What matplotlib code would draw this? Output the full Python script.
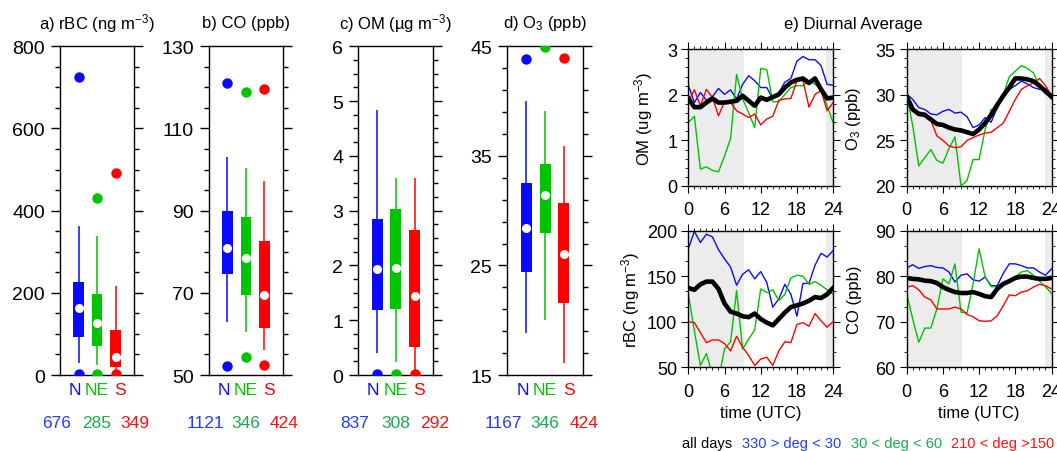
import matplotlib.pyplot as plt
from matplotlib.ticker import MultipleLocator, AutoMinorLocator
import numpy as np

plt.rcParams['font.family'] = ['Liberation Sans', 'DejaVu Sans']
plt.rcParams['mathtext.fontset'] = 'custom'
plt.rcParams['mathtext.rm'] = 'Liberation Sans'
plt.rcParams['mathtext.it'] = 'Liberation Sans:italic'
plt.rcParams['axes.linewidth'] = 1.0

sectors = ['N', 'NE', 'S']
sector_colors = ['#0a0aff', '#00c400', '#ff0000']
count_colors = ['#1f3dff', '#1aaa4f', '#ff1010']

# box stats per sector: low outlier, whisker low, q1, median, q3, whisker high, high outlier
rbc_stats = [(3, 29, 92, 162, 227, 363, 725),
             (2, 24, 71, 127, 197, 339, 432),
             (2, 5, 20, 45, 110, 217, 492)]
co_stats = [(52.1, 63.0, 74.6, 80.8, 90.0, 103.1, 121.0),
            (54.5, 60.5, 69.5, 78.6, 88.4, 100.5, 119.0),
            (52.5, 56.2, 61.4, 69.5, 82.5, 97.3, 119.6)]
om_stats = [(0.02, 0.41, 1.19, 1.94, 2.84, 4.83, None),
            (0.02, 0.23, 1.21, 1.96, 3.03, 3.59, None),
            (0.02, 0.02, 0.52, 1.45, 2.64, 3.59, None)]
o3_stats = [(None, 18.8, 24.4, 28.4, 32.5, 40.0, 43.8),
            (None, 20.0, 28.0, 31.4, 34.3, 39.1, 44.9),
            (None, 16.1, 21.6, 26.0, 30.7, 35.9, 43.9)]

rbc_counts = [676, 285, 349]
co_counts = [1121, 346, 424]
om_counts = [837, 308, 292]
o3_counts = [1167, 346, 424]

# diurnal cycle, hourly 0..24 UTC
hours = np.arange(25)

om_all = [1.92, 1.73, 1.73, 1.83, 1.92, 1.83, 1.83, 1.85, 1.87, 1.98, 1.87, 1.76, 1.94,
          1.89, 1.95, 2.01, 2.16, 2.27, 2.33, 2.36, 2.26, 2.36, 2.12, 1.92, 1.94]
om_n = [2.21, 1.83, 2.05, 1.88, 1.96, 2.14, 2.01, 2.11, 1.91, 2.23, 2.42, 2.31, 2.16,
        2.16, 1.92, 2.05, 2.28, 2.36, 2.74, 2.84, 2.77, 2.77, 2.64, 2.23, 2.21]
om_ne = [1.39, 1.53, 0.37, 0.42, 0.34, 0.31, 0.66, 1.04, 2.45, 1.91, 1.61, 1.28, 2.58,
         2.55, 1.85, 1.85, 2.01, 2.16, 2.20, 2.20, 2.31, 2.23, 2.12, 1.76, 1.39]
om_s = [1.85, 2.11, 1.76, 2.12, 1.94, 1.54, 1.85, 1.83, 1.65, 1.58, 1.50, 1.58, 1.34,
        1.47, 1.53, 1.88, 1.91, 1.92, 2.31, 2.31, 1.73, 2.01, 2.09, 1.65, 1.83]

o3_all = [29.8, 28.4, 27.9, 27.8, 27.3, 26.8, 26.7, 26.4, 26.2, 26.1, 25.9, 25.7, 26.2,
          26.9, 27.8, 28.9, 29.9, 30.8, 31.8, 31.8, 31.7, 31.5, 31.0, 30.4, 29.8]
o3_n = [30.1, 29.5, 28.6, 28.4, 27.9, 27.8, 28.2, 28.4, 28.0, 28.1, 27.6, 26.4, 26.7,
        27.5, 27.0, 28.6, 29.8, 30.6, 31.0, 31.5, 31.2, 30.8, 30.6, 30.7, 29.8]
o3_ne = [30.1, 26.6, 22.2, 23.1, 24.0, 22.8, 22.5, 24.1, 25.4, 20.0, 20.6, 22.9, 22.9,
         26.2, 28.4, 28.4, 30.0, 32.0, 32.6, 33.2, 32.9, 32.4, 31.0, 30.1, 29.9]
o3_s = [30.0, 28.4, 28.1, 28.0, 27.2, 25.5, 25.0, 24.4, 24.2, 24.3, 25.0, 25.3, 25.6,
        25.8, 25.9, 26.4, 26.9, 28.2, 29.5, 30.6, 31.0, 31.3, 31.8, 31.0, 29.9]

rbc_all = [137, 135, 141, 144, 144, 136, 120, 111, 109, 106, 105, 109, 103,
           99, 96, 103, 110, 116, 118, 120, 123, 127, 126, 130, 137]
rbc_n = [180, 199, 187, 196, 193, 179, 169, 160, 140, 152, 157, 147, 155,
         143, 116, 125, 141, 130, 106, 142, 142, 162, 175, 171, 178]
rbc_ne = [130, 90, 52, 65, 42, 36, 70, 78, 134, 70, 81, 91, 136,
          132, 135, 123, 130, 148, 151, 150, 141, 144, 140, 135, 130]
rbc_s = [100, 99, 88, 77, 80, 80, 76, 68, 84, 72, 63, 52, 59,
         61, 52, 68, 78, 77, 97, 99, 95, 109, 101, 94, 100]

co_all = [79.6, 79.4, 79.3, 79.0, 78.9, 78.5, 77.6, 77.0, 76.5, 76.3, 76.3, 76.5, 76.1,
          75.6, 75.4, 77.2, 78.3, 78.9, 79.6, 79.9, 79.9, 79.6, 79.4, 79.4, 79.6]
co_n = [81.8, 82.5, 81.7, 82.1, 82.3, 81.9, 81.8, 80.9, 78.7, 80.2, 80.5, 79.2, 78.9,
        79.8, 77.9, 77.9, 80.6, 82.7, 82.7, 82.3, 81.8, 81.8, 80.9, 80.2, 81.6]
co_ne = [76.1, 70.6, 65.5, 68.6, 68.6, 72.8, 79.4, 78.3, 82.7, 72.1, 71.9, 78.3, 86.0,
         79.8, 77.7, 77.7, 78.3, 79.0, 79.9, 80.9, 81.2, 80.2, 78.9, 77.7, 76.2]
co_s = [77.6, 77.9, 77.0, 75.4, 74.8, 72.8, 72.8, 72.8, 73.2, 72.8, 71.6, 71.1, 70.2,
        70.1, 70.2, 71.3, 73.5, 75.9, 75.7, 76.5, 76.8, 77.6, 78.2, 77.9, 77.2]

# night-time shading (UTC)
night_end = 9.2
night_start = 22.9

fig = plt.figure(figsize=(10.57, 4.52), dpi=100)


def box_panel(rect, stats, counts, title, ylim, major, minor):
    ax = fig.add_axes(rect)
    for i, (lo, wlo, q1, med, q3, whi, hi) in enumerate(stats):
        x = i + 1
        c = sector_colors[i]
        ax.vlines(x, wlo, whi, color=c, lw=1.1, zorder=2)
        ax.bar(x, q3 - q1, bottom=q1, width=0.58, color=c, zorder=3)
        ax.plot(x, med, 'o', color='white', ms=6.5, mec='none', zorder=4)
        for v in (lo, hi):
            if v is not None:
                ax.plot(x, v, 'o', color=c, ms=7.5, mec='none', zorder=4)
    ax.set_xlim(0, 4)
    ax.set_ylim(*ylim)
    ax.set_xticks([])
    # ticks counted from the bottom of the range, not from zero
    ax.set_yticks(np.arange(ylim[0], ylim[1] + major / 2, major))
    ax.set_yticks(np.arange(ylim[0], ylim[1] + minor / 2, minor), minor=True)
    ax.tick_params(axis='y', which='both', direction='out', left=True, right=True,
                   labelsize=14, pad=4.5)
    ax.tick_params(axis='y', which='major', length=6.5, width=1.0)
    ax.tick_params(axis='y', which='minor', length=3.5, width=1.0)
    ax.text(0.5, 1.073, title, transform=ax.transAxes, ha='center', va='center', fontsize=12)
    for x, name, c in zip([0.8, 2.0, 3.25], sectors, sector_colors):
        ax.text(x, -0.045, name, transform=ax.get_xaxis_transform(), ha='center',
                va='center', color=c, fontsize=12.5)
    for x, n, c in zip([-0.2, 2.0, 4.05], counts, count_colors):
        ax.text(x, -0.145, str(n), transform=ax.get_xaxis_transform(), ha='center',
                va='center', color=c, fontsize=12.5, clip_on=False)
    return ax


box_bottom, box_height = 0.1681, 0.7272
box_panel([0.0568, box_bottom, 0.0700, box_height], rbc_stats, rbc_counts,
          'a) rBC (ng m$^{-3}$)', (0, 800), 200, 50)
box_panel([0.1977, box_bottom, 0.0700, box_height], co_stats, co_counts,
          'b) CO (ppb)', (50, 130), 20, 5)
box_panel([0.3390, box_bottom, 0.0710, box_height], om_stats, om_counts,
          'c) OM (\u00b5g m$^{-3}$)', (0, 6), 1, 0.25)
box_panel([0.4800, box_bottom, 0.0713, box_height], o3_stats, o3_counts,
          'd) O$_3$ (ppb)', (15, 45), 10, 2)


def diurnal_panel(rect, all_days, n, ne, s, ylabel, ylim, major, nminor, label_x,
                  xlabel=False):
    ax = fig.add_axes(rect)
    ax.axvspan(0, night_end, color='#ececec', lw=0, zorder=0)
    ax.axvspan(night_start, 24, color='#ececec', lw=0, zorder=0)
    for vals, c in zip([n, ne, s], sector_colors):
        ax.plot(hours, vals, color=c, lw=1.0, zorder=2)
    ax.plot(hours, all_days, color='black', lw=3.3, zorder=3)
    ax.set_xlim(0, 24)
    ax.set_ylim(*ylim)
    ax.xaxis.set_major_locator(MultipleLocator(6))
    ax.xaxis.set_minor_locator(MultipleLocator(1))
    ax.yaxis.set_major_locator(MultipleLocator(major))
    ax.yaxis.set_minor_locator(AutoMinorLocator(nminor))
    ax.tick_params(which='both', direction='out', top=True, right=True, labelsize=13)
    ax.tick_params(axis='x', which='major', length=5, pad=6)
    ax.tick_params(axis='y', which='major', length=5, pad=3)
    ax.tick_params(which='minor', length=2.5)
    ax.set_ylabel(ylabel, fontsize=12)
    ax.yaxis.set_label_coords(label_x, 0.5)
    if xlabel:
        ax.set_xlabel('time (UTC)', fontsize=12, labelpad=4)
    return ax


col1, col2 = 0.6512, 0.8578
row1, row2 = 0.5863, 0.1852
pw, ph = 0.1370, 0.3025
diurnal_panel([col1, row1, pw, ph], om_all, om_n, om_ne, om_s,
              'OM (ug m$^{-3}$)', (0, 3), 1, 5, -0.23)
diurnal_panel([col2, row1, pw, ph], o3_all, o3_n, o3_ne, o3_s,
              'O$_3$ (ppb)', (20, 35), 5, 5, -0.30)
diurnal_panel([col1, row2, pw, ph], rbc_all, rbc_n, rbc_ne, rbc_s,
              'rBC (ng m$^{-3}$)', (50, 200), 50, 3, -0.32, xlabel=True)
diurnal_panel([col2, row2, pw, ph], co_all, co_n, co_ne, co_s,
              'CO (ppb)', (60, 90), 10, 3, -0.31, xlabel=True)

fig.text(0.8077, 0.945, 'e) Diurnal Average', ha='center', va='center', fontsize=12)

# sector legend under the diurnal panels
fig.text(0.645, 0.0177, 'all days', color='black', fontsize=10.5, va='center')
fig.text(0.7017, 0.0177, '330 > deg < 30', color='#1f3dff', fontsize=10.5, va='center')
fig.text(0.8048, 0.0177, '30 < deg < 60', color='#1aaa4f', fontsize=10.5, va='center')
fig.text(0.8994, 0.0177, '210 < deg >150', color='#ff1010', fontsize=10.5, va='center')

fig.savefig('out.png', dpi=100)
